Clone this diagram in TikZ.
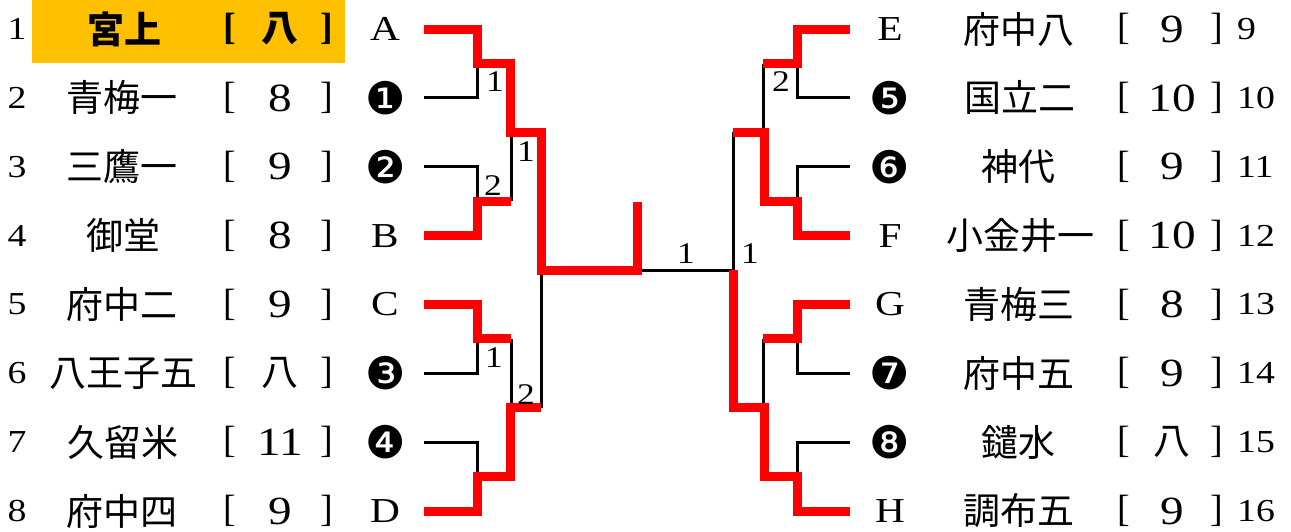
\documentclass[tikz,border=0pt]{standalone}
\usepackage{fontspec}
\setmainfont{Liberation Serif}
\newfontfamily\wideserif[FakeStretch=1.18]{Liberation Serif}
\newfontfamily\cjk{Noto Sans CJK JP}
\newfontfamily\dingfont{DejaVu Sans}
\definecolor{hlorange}{HTML}{FFC000}
\definecolor{wred}{HTML}{FF0000}
\begin{document}
\begin{tikzpicture}[x=1pt,y=-1pt,
  redpath/.style={draw=wred, line width=9pt, line join=miter},
  blk/.style={draw=black, line width=3pt, line join=miter},
  nm/.style={font=\cjk\fontsize{37}{40}\selectfont, inner sep=0pt},
  nmb/.style={font=\cjk\bfseries\fontsize{37}{40}\selectfont, inner sep=0pt},
  br/.style={font=\fontsize{38}{40}\selectfont, inner sep=0pt},
  brb/.style={font=\bfseries\fontsize{38}{40}\selectfont, inner sep=0pt},
  sd/.style={font=\wideserif\fontsize{40}{44}\selectfont, inner sep=0pt},
  rn/.style={font=\wideserif\fontsize{32}{34}\selectfont, inner sep=0pt},
  tg/.style={font=\wideserif\fontsize{35}{37}\selectfont, inner sep=0pt},
  cn/.style={font=\dingfont\fontsize{45}{48}\selectfont, inner sep=0pt},
  lbl/.style={font=\wideserif\fontsize{30}{32}\selectfont, inner sep=0pt}]
\useasboundingbox (0,0) rectangle (1291,531);
% highlight
\node[fill=hlorange, minimum width=313pt, minimum height=63pt, inner sep=0pt, anchor=north west] (hl) at (32,0) {};
% ---------- left texts ----------
\node[rn] (n1) at (17,29) {1};
\node[rn] (n2) at (17,97.9) {2};
\node[rn] (n3) at (17,166.7) {3};
\node[rn] (n4) at (17,235.6) {4};
\node[rn] (n5) at (17,304.4) {5};
\node[rn] (n6) at (17,373.3) {6};
\node[rn] (n7) at (17,442.1) {7};
\node[rn] (n8) at (17,511) {8};
\node[nmb] (t1) at (124,29) {宮上};
\node[nm] (t2) at (122,97.9) {青梅一};
\node[nm] (t3) at (122,166.7) {三鷹一};
\node[nm] (t4) at (123,235.6) {御堂};
\node[nm] (t5) at (122,304.4) {府中二};
\node[nm] (t6) at (123,373.3) {八王子五};
\node[nm] (t7) at (123,442.1) {久留米};
\node[nm] (t8) at (122,511) {府中四};
\foreach \i/\y in {2/97.9,3/166.7,4/235.6,5/304.4,6/373.3,7/442.1,8/511}{
  \node[br] (lo\i) at (230,\y) {[};
  \node[br] (lc\i) at (327,\y) {]};
}
\node[brb] (lo1) at (230,29) {[};
\node[brb] (lc1) at (327,29) {]};
\node[nmb] (v1) at (280,29) {八};
\node[sd] (v2) at (280,97.9) {8};
\node[sd] (v3) at (280,166.7) {9};
\node[sd] (v4) at (280,235.6) {8};
\node[sd] (v5) at (280,304.4) {9};
\node[nm] (v6) at (280,373.3) {八};
\node[sd] (v7) at (280,442.1) {11};
\node[sd] (v8) at (280,511) {9};
\node[tg] (gA) at (385,29) {A};
\node[cn] (g1) at (386,97.9) {❶};
\node[cn] (g2) at (386,166.7) {❷};
\node[tg] (gB) at (385,235.6) {B};
\node[tg] (gC) at (385,304.4) {C};
\node[cn] (g3) at (386,373.3) {❸};
\node[cn] (g4) at (386,442.1) {❹};
\node[tg] (gD) at (385,511) {D};
% ---------- right texts ----------
\node[tg] (gE) at (890,29) {E};
\node[cn] (g5) at (890,97.9) {❺};
\node[cn] (g6) at (890,166.7) {❻};
\node[tg] (gF) at (890,235.6) {F};
\node[tg] (gG) at (890,304.4) {G};
\node[cn] (g7) at (890,373.3) {❼};
\node[cn] (g8) at (890,442.1) {❽};
\node[tg] (gH) at (890,511) {H};
\node[nm] (t9) at (1019,29) {府中八};
\node[nm] (t10) at (1020,97.9) {国立二};
\node[nm] (t11) at (1018,166.7) {神代};
\node[nm] (t12) at (1020,235.6) {小金井一};
\node[nm] (t13) at (1019,304.4) {青梅三};
\node[nm] (t14) at (1019,373.3) {府中五};
\node[nm] (t15) at (1018,442.1) {鑓水};
\node[nm] (t16) at (1019,511) {調布五};
\foreach \i/\y in {9/29,10/97.9,11/166.7,12/235.6,13/304.4,14/373.3,15/442.1,16/511}{
  \node[br] (lo\i) at (1124,\y) {[};
  \node[br] (lc\i) at (1217,\y) {]};
}
\node[sd] (v9) at (1172,29) {9};
\node[sd] (v10) at (1172,97.9) {10};
\node[sd] (v11) at (1172,166.7) {9};
\node[sd] (v12) at (1172,235.6) {10};
\node[sd] (v13) at (1172,304.4) {8};
\node[sd] (v14) at (1172,373.3) {9};
\node[nm] (v15) at (1172,442.1) {八};
\node[sd] (v16) at (1172,511) {9};
\node[rn, anchor=west] (n9) at (1237,29) {9};
\node[rn, anchor=west] (n10) at (1237,97.9) {10};
\node[rn, anchor=west] (n11) at (1237,166.7) {11};
\node[rn, anchor=west] (n12) at (1237,235.6) {12};
\node[rn, anchor=west] (n13) at (1237,304.4) {13};
\node[rn, anchor=west] (n14) at (1237,373.3) {14};
\node[rn, anchor=west] (n15) at (1237,442.1) {15};
\node[rn, anchor=west] (n16) at (1237,511) {16};
% ---------- bracket coordinates ----------
\coordinate (LA) at (424,29);
\coordinate (L1) at (424,97.9);
\coordinate (L2) at (424,166.7);
\coordinate (LB) at (424,235.6);
\coordinate (LC) at (424,304.4);
\coordinate (L3) at (424,373.3);
\coordinate (L4) at (424,442.1);
\coordinate (LD) at (424,511);
\coordinate (RE) at (850,29);
\coordinate (R5) at (850,97.9);
\coordinate (R6) at (850,166.7);
\coordinate (RF) at (850,235.6);
\coordinate (RG) at (850,304.4);
\coordinate (R7) at (850,373.3);
\coordinate (R8) at (850,442.1);
\coordinate (RH) at (850,511);
\coordinate (ja) at (510,63.5);
\coordinate (jb) at (511,201.2);
\coordinate (jc) at (511,338.9);
\coordinate (jd) at (510,476.6);
\coordinate (k1) at (541,132.3);
\coordinate (k2) at (541,407.7);
\coordinate (fin) at (637,270);
\coordinate (flag) at (637,202);
\coordinate (je) at (763,63.5);
\coordinate (jf) at (764,201.2);
\coordinate (jg) at (763,338.9);
\coordinate (jh) at (764,476.6);
\coordinate (k3) at (733,132.3);
\coordinate (k4) at (733,407.7);
\coordinate (fin2) at (733,270);
% ---------- black (losing) lines ----------
\draw[blk] (L1) -- ++(53,0) |- (ja);
\draw[blk] (L2) -- ++(53,0) |- (jb);
\draw[blk] (jb) |- (k1);
\draw[blk] (L3) -- ++(53,0) |- (jc);
\draw[blk] (L4) -- ++(53,0) |- (jd);
\draw[blk] (jc) |- (k2);
\draw[blk] (k2) |- (fin);
\draw[blk] (fin) -- (fin2);
\draw[blk] (R5) -- ++(-53,0) |- (je);
\draw[blk] (R6) -- ++(-53,0) |- (jf);
\draw[blk] (je) |- (k3);
\draw[blk] (k3) |- (fin2);
\draw[blk] (R7) -- ++(-53,0) |- (jg);
\draw[blk] (R8) -- ++(-53,0) |- (jh);
\draw[blk] (jg) |- (k4);
% ---------- red (winning) lines ----------
\draw[redpath] (LA) -- ++(53,0) |- (ja) |- (k1) |- (fin) -- (flag);
\draw[redpath] (LB) -- ++(53,0) |- (jb);
\draw[redpath] (LC) -- ++(53,0) |- (jc);
\draw[redpath] (LD) -- ++(53,0) |- (jd) |- (k2);
\draw[redpath] (RE) -- ++(-53,0) |- (je);
\draw[redpath] (RF) -- ++(-53,0) |- (jf) |- (k3);
\draw[redpath] (RG) -- ++(-53,0) |- (jg);
\draw[redpath] (RH) -- ++(-53,0) |- (jh) |- (k4) -- (fin2);
% ---------- scores ----------
\node[lbl] (s1) at (495,82) {1};
\node[lbl] (s2) at (493,186) {2};
\node[lbl] (s3) at (526,152) {1};
\node[lbl] (s4) at (494,358) {1};
\node[lbl] (s5) at (526,395) {2};
\node[lbl] (s6) at (686,254) {1};
\node[lbl] (s7) at (750,254) {1};
\node[lbl] (s8) at (781,82) {2};
\end{tikzpicture}
\end{document}
